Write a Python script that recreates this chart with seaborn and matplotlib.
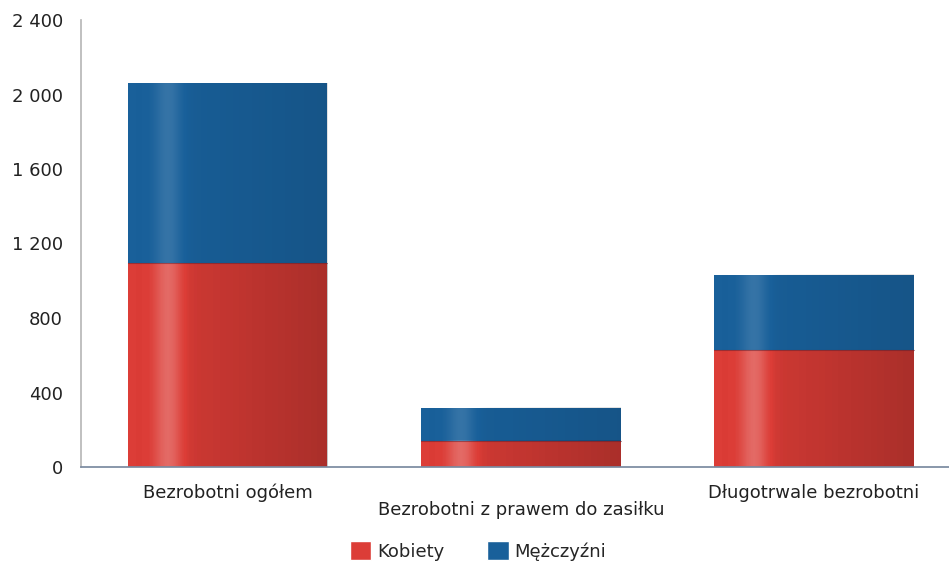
import numpy as np
import pandas as pd
import seaborn as sns
import matplotlib.pyplot as plt
from matplotlib.patches import Patch

categories = ["Bezrobotni ogółem", "Bezrobotni z prawem do zasiłku", "Długotrwale bezrobotni"]
kobiety = [1095, 140, 628]
mezczyzni = [965, 177, 403]
y_ticks = [0, 400, 800, 1200, 1600, 2000, 2400]

red = "#dc3d37"
blue = "#19609a"

df = pd.DataFrame({"kategoria": categories, "Kobiety": kobiety, "Mężczyźni": mezczyzni})
df["razem"] = df["Kobiety"] + df["Mężczyźni"]

sns.set_theme(style="white")
plt.rcParams["font.family"] = ["DejaVu Sans"]

fig = plt.figure(figsize=(9.49, 5.69), dpi=100)
ax = fig.add_axes([81 / 949, 1 - 467 / 569, 868 / 949, 447 / 569])

sns.barplot(data=df, x="kategoria", y="razem", color=blue, saturation=1, width=0.68,
            linewidth=0, ax=ax)
sns.barplot(data=df, x="kategoria", y="Kobiety", color=red, saturation=1, width=0.68,
            linewidth=0, ax=ax)

# light vertical gradient to mimic the shaded bars
for p in ax.patches:
    x0, y0 = p.get_x(), p.get_y()
    w, h = p.get_width(), p.get_height()
    grad = np.linspace(0, 1, 200)
    shade = 0.15 * np.exp(-((grad - 0.2) / 0.07) ** 2) - 0.12 * grad
    img = np.zeros((1, 200, 4))
    img[..., :3] = np.where(shade[:, None] > 0, 1.0, 0.0)
    img[..., 3] = np.abs(shade)
    ax.imshow(img, extent=[x0, x0 + w, y0, y0 + h], aspect="auto", zorder=p.get_zorder() + 0.1)

# thin dark seam between the two segments
for i, k in enumerate(kobiety):
    ax.plot([i - 0.34, i + 0.34], [k, k], color="#5a2030", lw=0.8, alpha=0.5, zorder=5)

ax.set_xlim(-0.5, 2.46)
ax.set_ylim(0, 2400)
ax.set_yticks(y_ticks)
ax.set_yticklabels([f"{v:,}".replace(",", " ") for v in y_ticks], fontsize=13, color="#222222")
ax.tick_params(axis="y", length=0, pad=13)
ax.set_xticks(range(len(categories)))
ax.set_xticklabels([])
ax.tick_params(axis="x", length=0)
ax.set_xlabel("")
ax.set_ylabel("")

for i, c in enumerate(categories):
    y_off = -26 if i % 2 == 0 else -43
    ax.annotate(c, (i, 0), xytext=(0, y_off), textcoords="offset pixels",
                ha="center", va="center", fontsize=13, color="#222222")

for side in ["top", "right"]:
    ax.spines[side].set_visible(False)
ax.spines["left"].set_color("#b8b8b8")
ax.spines["bottom"].set_color("#7a8aa0")

handles = [Patch(facecolor=red, label="Kobiety"), Patch(facecolor=blue, label="Mężczyźni")]
fig.legend(handles=handles, loc="center", bbox_to_anchor=(478 / 949, 1 - 551 / 569), ncol=2,
           frameon=False, fontsize=13, handlelength=1.2, handleheight=1.2,
           handletextpad=0.3, columnspacing=2.4)

fig.savefig("out.png", dpi=100)
